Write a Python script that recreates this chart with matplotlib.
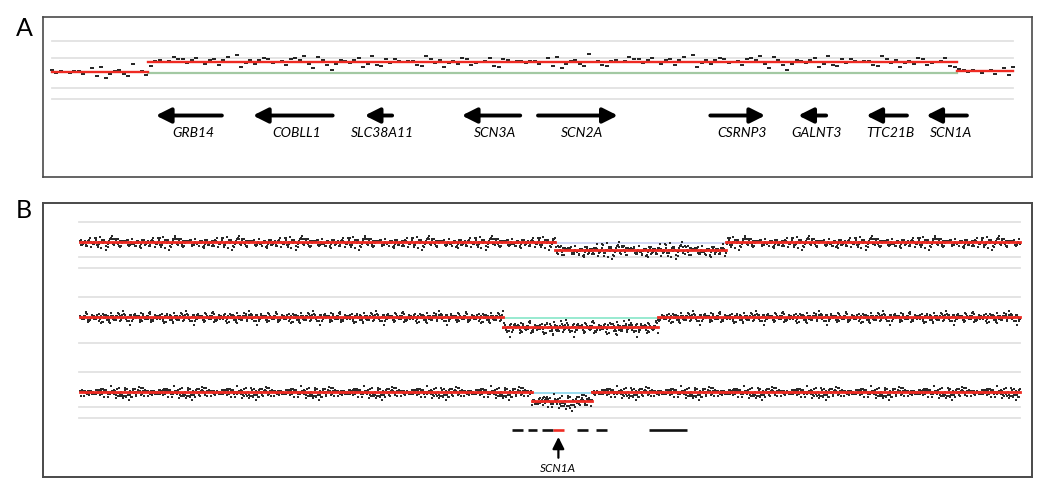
import numpy as np
import matplotlib.pyplot as plt

# ---- data (log2 ratio, positions in Mb) ----
# panel A: segment breakpoints and levels
a_seg_start = [165.142, 165.331, 166.924]
a_seg_end = [165.331, 166.924, 167.034]
a_seg_level = [0.04, 0.43, 0.06]
a_n_probes = 214

# panel A genes
gene_names = ['GRB14', 'COBLL1', 'SLC38A11', 'SCN3A', 'SCN2A', 'CSRNP3', 'GALNT3', 'TTC21B', 'SCN1A']
gene_start = [165.347, 165.538, 165.758, 165.949, 166.099, 166.438, 166.611, 166.745, 166.863]
gene_end = [165.477, 165.695, 165.812, 166.064, 166.256, 166.546, 166.666, 166.825, 166.943]
gene_strand = ['-', '-', '-', '-', '+', '+', '-', '-', '-']

# panel B: three patients, deletion start/end and level
b_del_start = [166.94, 166.29, 166.65]
b_del_end = [169.075, 168.225, 167.40]
b_del_level = [-0.31, -0.40, -0.36]
b_range = [161.0, 172.75]
b_n_probes = 1500

# panel B: bars under the tracks
bar_start = [166.40, 166.60, 166.775, 166.91, 167.21, 167.45, 168.11]
bar_end = [166.54, 166.71, 166.91, 167.05, 167.35, 167.59, 168.59]
bar_is_scn1a = [False, False, False, True, False, False, False]

# probe residuals read (approximately) from the scatter
residuals = [0.05, -0.08, 0.12, -0.02, 0.07, -0.15, 0.03, 0.10, -0.06, 0.01,
             -0.11, 0.18, -0.04, 0.06, -0.09, 0.02, 0.14, -0.13, 0.04, -0.01,
             0.09, -0.07, 0.21, -0.03, 0.00, -0.17, 0.08, 0.11, -0.05, 0.03,
             -0.12, 0.06, -0.02, 0.15, -0.08, 0.04, -0.20, 0.07, 0.01, -0.06,
             0.13, -0.10, 0.02, 0.09, -0.14, 0.05, -0.03, 0.17, -0.07, 0.00,
             0.10, -0.12, 0.04, -0.05, 0.24, -0.09, 0.06, -0.01, 0.08, -0.16,
             0.03, 0.12, -0.04, -0.10, 0.07, 0.01, -0.13, 0.19, -0.06, 0.02,
             -0.08, 0.11, 0.05, -0.18, 0.09, -0.02, 0.14, -0.11, 0.03, 0.06,
             -0.05, 0.16, -0.09, 0.00, 0.08, -0.26, 0.04, 0.10, -0.07, 0.13,
             -0.03, 0.05, -0.12, 0.07, 0.02, -0.15, 0.11, -0.04, 0.09, -0.01, 0.06]

a_grid = [1.25, 0.58, -0.58, -1.0]
b_grid = [[0.77, -0.58, -1.0], [0.77, -1.0], [0.77, -0.58, -1.0]]
b_base_colors = ['#c9d0f2', '#86e6c8', '#86d6ec']
track_gap = 2.885

RED = '#ee2a22'
GRID = '#e2e2e2'
FRAME = '#4a4a4a'
res = np.array(residuals)

fig = plt.figure(figsize=(10.5, 4.94), dpi=100)
W, H = 1050, 494

def place(x0, y0, x1, y1):
    return fig.add_axes([x0 / W, 1 - y1 / H, (x1 - x0) / W, (y1 - y0) / H])

# ---------------- panel A ----------------
axA = place(43, 17, 1032, 177)
axA.set_xlim(165.125, 167.071)
axA.set_ylim(-4.0, 2.154)
for g in a_grid:
    axA.plot([165.142, 167.034], [g, g], color=GRID, lw=1.3, zorder=1)
axA.plot([a_seg_start[1], a_seg_end[1]], [0, 0], color='#a3c9a3', lw=1.6, zorder=2)

xa = np.linspace(a_seg_start[0], a_seg_end[-1], a_n_probes)
lev_a = np.select([xa < a_seg_end[0], xa < a_seg_end[1]], a_seg_level[:2], a_seg_level[2])
ya = lev_a + 1.25 * res[(np.arange(a_n_probes) * 3) % len(res)]
axA.plot(xa, ya, ls='none', marker='_', ms=3.0, mew=1.3, color='#111111', zorder=3)
for s, e, l in zip(a_seg_start, a_seg_end, a_seg_level):
    axA.plot([s, e], [l, l], color=RED, lw=1.7, zorder=4)

gy = -1.635
for name, s, e, st in zip(gene_names, gene_start, gene_end, gene_strand):
    tip, tail = (s, e) if st == '-' else (e, s)
    axA.annotate('', xy=(tip, gy), xytext=(tail, gy),
                 arrowprops=dict(arrowstyle='-|>,head_length=0.5,head_width=0.25',
                                 lw=2.8, color='black', mutation_scale=18,
                                 shrinkA=0, shrinkB=0))
    axA.text((s + e) / 2 + 0.008, -2.31, name, ha='center', va='center',
             fontsize=10, style='italic', family='Lato')
axA.set_xticks([])
axA.set_yticks([])
for sp in axA.spines.values():
    sp.set_color(FRAME)
    sp.set_linewidth(1.2)

# ---------------- panel B ----------------
axB = place(43, 203, 1032, 477)
axB.set_xlim(160.5375, 172.9)
axB.set_ylim(-9.04, 1.5)
xb = np.linspace(b_range[0], b_range[1], b_n_probes)
for t in range(3):
    off = -t * track_gap
    for g in b_grid[t]:
        axB.plot([160.99, b_range[1]], [off + g, off + g], color=GRID, lw=1.3, zorder=1)
    ds, de, dl = b_del_start[t], b_del_end[t], b_del_level[t]
    axB.plot([ds, de], [off - 0.04, off - 0.04], color=b_base_colors[t], lw=1.2, zorder=2)
    idx = (np.arange(b_n_probes) * (7 + 4 * t) + 13 * t) % len(res)
    inside = (xb >= ds) & (xb <= de)
    yb = off + np.where(inside, dl + 1.3 * res[idx] - 0.02, 1.05 * res[idx] - 0.03)
    axB.scatter(xb, yb, s=1.1, marker='s', linewidths=0, color='#2a2a2a', zorder=3)
    axB.plot([b_range[0], ds], [off, off], color=RED, lw=2.0, zorder=4)
    axB.plot([ds, de], [off + dl, off + dl], color=RED, lw=2.0, zorder=4)
    axB.plot([de, b_range[1]], [off, off], color=RED, lw=2.0, zorder=4)

for s, e, hit in zip(bar_start, bar_end, bar_is_scn1a):
    axB.plot([s, e], [-7.23, -7.23], color=RED if hit else '#111111', lw=1.9,
             solid_capstyle='butt', zorder=3)
scn1a_x = (bar_start[3] + bar_end[3]) / 2
axB.annotate('', xy=(scn1a_x, -7.5), xytext=(scn1a_x, -8.3),
             arrowprops=dict(arrowstyle='-|>,head_length=0.5,head_width=0.25',
                             lw=1.6, color='black', mutation_scale=14,
                             shrinkA=0, shrinkB=0))
axB.text(scn1a_x, -8.7, 'SCN1A', ha='center', va='center', fontsize=8.5,
         style='italic', family='Lato')
axB.set_xticks([])
axB.set_yticks([])
for sp in axB.spines.values():
    sp.set_color(FRAME)
    sp.set_linewidth(1.4)

fig.text(24 / W, 1 - 28 / H, 'A', fontsize=18, family='Lato', ha='center', va='center')
fig.text(24 / W, 1 - 211 / H, 'B', fontsize=18, family='Lato', ha='center', va='center')

fig.savefig('out.png', dpi=100, facecolor='white')
